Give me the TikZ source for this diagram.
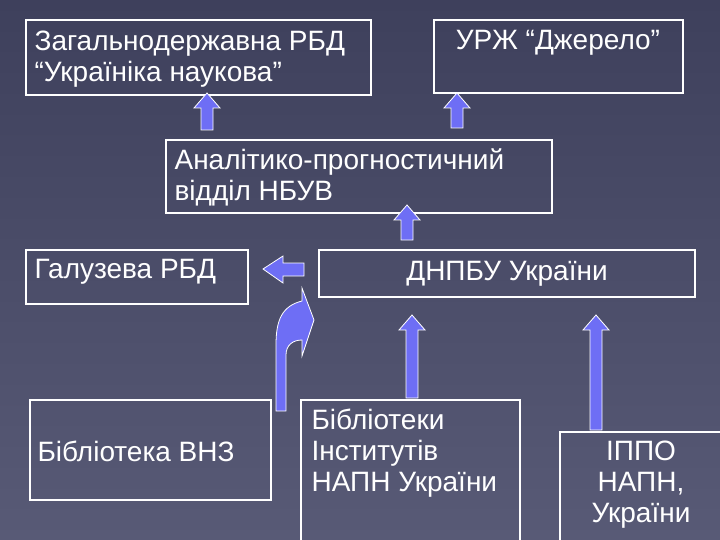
\documentclass[tikz,border=0pt]{standalone}
\usepackage{fontspec}
\setmainfont{Liberation Sans}
\begin{document}
\begin{tikzpicture}[x=1pt,y=-1pt,
 box/.style={draw=white,line width=1.2pt,inner sep=6pt,text=white,font=\fontsize{28}{31}\selectfont}]
\definecolor{arrfill}{HTML}{6E6EF5}
\tikzset{barr/.style={fill=arrfill,draw=white,line width=0.8pt}}
\shade[top color={rgb,255:red,62;green,64;blue,92},bottom color={rgb,255:red,88;green,90;blue,118}] (0,0) rectangle (720,540);
\useasboundingbox (0,0) rectangle (720,540);
\newcommand\uparr[3]{\draw[barr] (#1-6,#2) -- (#1-6,#3+15) -- (#1-13,#3+15) -- (#1,#3) -- (#1+13,#3+15) -- (#1+6,#3+15) -- (#1+6,#2) -- cycle;}
% boxes
\draw[box] (26,20) rectangle (371,95);
\node[box,draw=none,anchor=north west,align=left] (t1) at (28,24) {Загальнодержавна РБД\\“Україніка наукова”};
\draw[box] (434,20) rectangle (683,93);
\node[box,draw=none,anchor=north] (t2) at (558,24) {УРЖ “Джерело”};
\draw[box] (166,140) rectangle (552,213);
\node[box,draw=none,anchor=north west,align=left] (t3) at (168,142) {Аналітико-прогностичний\\відділ НБУВ};
\draw[box] (26,250) rectangle (248,304);
\node[box,draw=none,anchor=north west] (t4) at (28,253) {Галузева РБД};
\draw[box] (319,250) rectangle (695,297);
\node[box,draw=none,anchor=north] (t5) at (507,255) {ДНПБУ України};
\draw[box] (30,400) rectangle (271,500);
\node[box,draw=none,anchor=north west] (t6) at (31,434) {Бібліотека ВНЗ};
\draw[box] (301,400) rectangle (520,545);
\node[box,draw=none,anchor=north west,align=left] (t7) at (305,402) {Бібліотеки\\Інститутів\\НАПН України};
\draw[box] (560,432) rectangle (725,545);
\node[box,draw=none,anchor=north,align=center] (t8) at (641,434) {ІППО\\НАПН,\\України};
% arrows
\uparr{207}{130}{93}
\uparr{457}{128}{93}
\uparr{407}{240}{205}
\uparr{412}{398}{315}
\uparr{596}{430}{315}
\draw[barr] (304,263) -- (283,263) -- (283,256) -- (263,269) -- (283,283) -- (283,276) -- (304,276) -- cycle;
\draw[barr] (276,411) -- (276,345) .. controls (276,320) and (282,306) .. (302,301) -- (302,288) -- (314,320) -- (302,356) -- (302,340) .. controls (293,340) and (286,345) .. (286,355) -- (286,411) -- cycle;
\end{tikzpicture}
\end{document}
